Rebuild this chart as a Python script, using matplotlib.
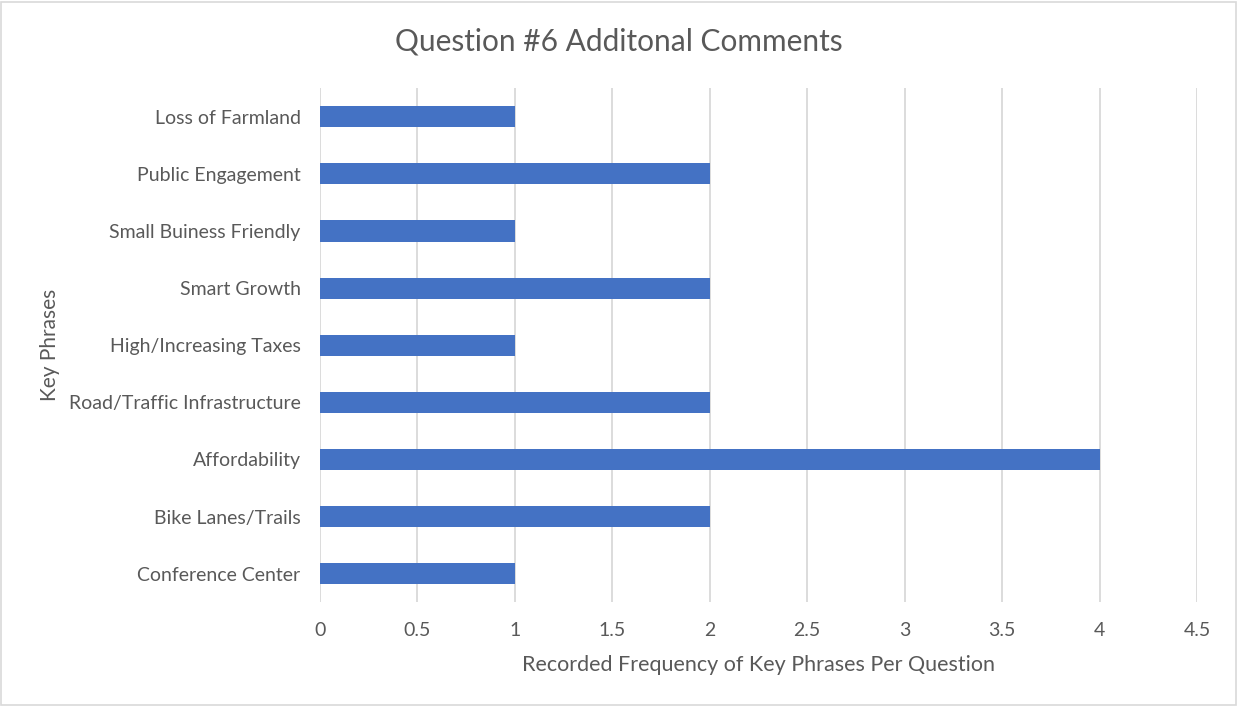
import matplotlib
matplotlib.use('Agg')
import matplotlib.pyplot as plt
from matplotlib.patches import Rectangle

# Key phrases, bottom to top as drawn
phrases = ['Conference Center', 'Bike Lanes/Trails', 'Affordability',
           'Road/Traffic Infrastructure', 'High/Increasing Taxes', 'Smart Growth',
           'Small Buiness Friendly', 'Public Engagement', 'Loss of Farmland']
counts = [1, 2, 4, 2, 1, 2, 1, 2, 1]
xticks = [0, 0.5, 1, 1.5, 2, 2.5, 3, 3.5, 4, 4.5]

text_color = '#595959'
bar_color = '#4472C4'
grid_color = '#D9D9D9'

plt.rcParams['font.family'] = ['Lato', 'DejaVu Sans']

fig = plt.figure(figsize=(12.38, 7.06), dpi=100)
ax = fig.add_axes([0.2585, 0.147, 0.7084, 0.728])

ax.barh(range(len(phrases)), counts, height=0.37, color=bar_color, zorder=3)
ax.set_xlim(0, 4.5)
ax.set_ylim(-0.5, len(phrases) - 0.5)
ax.set_xticks(xticks)
ax.set_xticklabels([f'{t:g}' for t in xticks])
ax.set_yticks(range(len(phrases)))
ax.set_yticklabels(phrases)

ax.grid(axis='x', color=grid_color, linewidth=1.3, zorder=0)
for s in ax.spines.values():
    s.set_visible(False)
ax.tick_params(length=0, colors=text_color, labelsize=14)
ax.tick_params(axis='x', pad=14)
ax.tick_params(axis='y', pad=14)

ax.set_xlabel('Recorded Frequency of Key Phrases Per Question', fontsize=15.5,
              color=text_color, labelpad=12)
ax.set_ylabel('Key Phrases', fontsize=15, color=text_color, labelpad=6)
fig.text(0.5, 0.941, 'Question #6 Additonal Comments', ha='center', va='center',
         fontsize=21.5, color=text_color)

# light border round the chart
fig.patches.append(Rectangle((0.001, 0.002), 0.997, 0.995, transform=fig.transFigure,
                             fill=False, edgecolor='#D9D9D9', linewidth=1.2))

fig.savefig('out.png', dpi=100)
